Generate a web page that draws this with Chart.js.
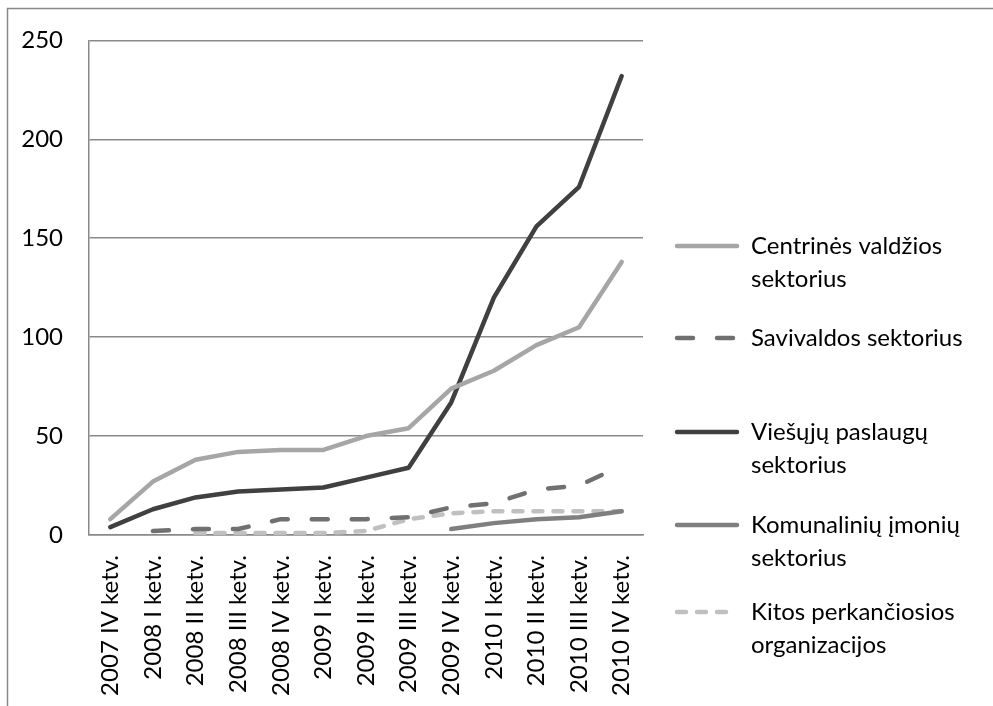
<!DOCTYPE html>
<html>
<head>
<meta charset="utf-8">
<script src="https://cdn.jsdelivr.net/npm/chart.js@4.4.1/dist/chart.umd.min.js"></script>
<style>
  html, body { margin: 0; padding: 0; background: #fff; }
  canvas { display: block; }
</style>
</head>
<body>
<canvas id="grafikas" width="993" height="706"></canvas>
<script>
// Ketvirčiai (x ašis)
var ketvirciai = ['2007 IV ketv.', '2008 I ketv.', '2008 II ketv.', '2008 III ketv.', '2008 IV ketv.',
    '2009 I ketv.', '2009 II ketv.', '2009 III ketv.', '2009 IV ketv.',
    '2010 I ketv.', '2010 II ketv.', '2010 III ketv.', '2010 IV ketv.'];

// Reikšmės pagal sektorius
var centrines = [8, 27, 38, 42, 43, 43, 50, 54, 74, 83, 96, 105, 138];
var savivaldos = [null, 2, 3, 3, 8, 8, 8, 9, 14, 16, 23, 25, 35];
var viesuju = [4, 13, 19, 22, 23, 24, 29, 34, 67, 120, 156, 176, 232];
var komunaliniu = [null, null, null, null, null, null, null, null, 3, 6, 8, 9, 12];
var kitos = [null, null, 1, 1, 1, 1, 2, 8, 11, 12, 12, 12, 12];

// Legendos tekstas (eilutėmis)
var legendosEilutes = [
    ['Centrinės valdžios', 'sektorius'],
    ['Savivaldos sektorius'],
    ['Viešųjų paslaugų', 'sektorius'],
    ['Komunalinių įmonių', 'sektorius'],
    ['Kitos perkančiosios', 'organizacijos']
];

// Y ašies žymos
var yMin = 0, yMax = 250, yZingsnis = 50;

var SRIFTAS = 'Lato, "Open Sans", sans-serif';
var TINKLAS = '#898989';

function linija(idx, duomenys, spalva, bruksnys) {
    return {
        label: legendosEilutes[idx].join(' '),
        data: duomenys,
        borderColor: spalva,
        backgroundColor: spalva,
        borderWidth: 4.5,
        borderDash: bruksnys,
        borderCapStyle: 'round',
        borderJoinStyle: 'round',
        pointRadius: 0,
        pointHoverRadius: 0,
        tension: 0,
        spanGaps: false,
        fill: false
    };
}

// Rėmelis aplink visą diagramą
var remelis = {
    id: 'remelis',
    beforeDraw: function (chart) {
        var ctx = chart.ctx;
        ctx.save();
        ctx.fillStyle = '#fff';
        ctx.fillRect(0, 0, chart.width, chart.height);
        ctx.strokeStyle = '#878787';
        ctx.lineWidth = 1.5;
        ctx.beginPath();
        ctx.moveTo(7.5, chart.height);
        ctx.lineTo(7.5, 8.5);
        ctx.lineTo(chart.width, 8.5);
        ctx.stroke();
        ctx.restore();
    }
};

// Legenda dešinėje
var legenda = {
    id: 'legenda',
    afterDraw: function (chart) {
        var ctx = chart.ctx;
        var virsus = [246, 338, 432, 525, 612];
        ctx.save();
        chart.data.datasets.forEach(function (ds, i) {
            var y = virsus[i];
            ctx.strokeStyle = ds.borderColor;
            ctx.lineWidth = ds.borderWidth;
            ctx.lineCap = 'round';
            ctx.setLineDash(ds.borderDash || []);
            ctx.beginPath();
            ctx.moveTo(677, y);
            ctx.lineTo(737, y);
            ctx.stroke();
            ctx.setLineDash([]);
            ctx.fillStyle = '#000';
            ctx.font = '24px ' + SRIFTAS;
            ctx.textBaseline = 'middle';
            ctx.textAlign = 'left';
            legendosEilutes[i].forEach(function (eil, j) {
                ctx.fillText(eil, 751, y + j * 33);
            });
        });
        ctx.restore();
    }
};

var grafikas = new Chart(document.getElementById('grafikas').getContext('2d'), {
    type: 'line',
    data: {
        labels: ketvirciai,
        datasets: [
            linija(0, centrines, '#a6a6a6', []),
            linija(1, savivaldos, '#707070', [16, 24]),
            linija(2, viesuju, '#404040', []),
            linija(3, komunaliniu, '#7f7f7f', []),
            linija(4, kitos, '#c0c0c0', [9, 11])
        ]
    },
    options: {
        responsive: false,
        animation: false,
        layout: { padding: { left: 0, top: 38, right: 350, bottom: 0 } },
        plugins: {
            legend: { display: false },
            tooltip: { enabled: false }
        },
        scales: {
            x: {
                offset: true,
                grid: { display: false, drawTicks: false },
                border: { display: true, color: TINKLAS, width: 1.5 },
                ticks: {
                    color: '#000',
                    font: { family: SRIFTAS, size: 24 },
                    minRotation: 90,
                    maxRotation: 90,
                    padding: 20,
                    autoSkip: false
                },
                afterFit: function (scale) { scale.height = 171; }
            },
            y: {
                min: yMin,
                max: yMax,
                grid: { color: TINKLAS, lineWidth: 1.5, drawTicks: false },
                border: { display: true, color: TINKLAS, width: 1.5 },
                ticks: {
                    stepSize: yZingsnis,
                    color: '#000',
                    font: { family: SRIFTAS, size: 24 },
                    padding: 26
                },
                afterFit: function (scale) { scale.width = 89; }
            }
        }
    },
    plugins: [remelis, legenda]
});
</script>
</body>
</html>
